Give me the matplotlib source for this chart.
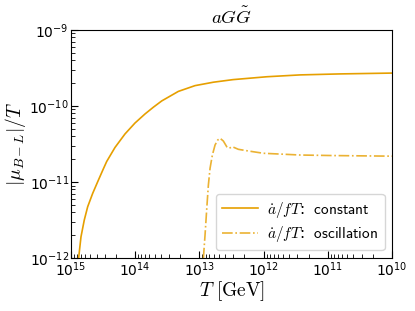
import matplotlib
matplotlib.use('Agg')
import matplotlib.pyplot as plt
import numpy as np

plt.rcParams.update({'mathtext.fontset': 'cm',
                     'font.family': 'DejaVu Sans',
                     'xtick.direction': 'in',
                     'ytick.direction': 'in'})

# log10(T/GeV) y log10(|mu_{B-L}|/T)
logT_const = [14.880, 14.844, 14.793, 14.740, 14.662, 14.584, 14.497, 14.444, 14.315,
              14.159, 14.003, 13.847, 13.718, 13.587, 13.329, 13.069, 12.783, 12.477,
              11.947, 11.433, 10.810, 10.0]
logmu_const = [-11.993, -11.720, -11.500, -11.325, -11.149, -10.996, -10.829, -10.730, -10.546,
               -10.368, -10.224, -10.105, -10.017, -9.934, -9.809, -9.733, -9.688, -9.654,
               -9.616, -9.592, -9.579, -9.568]

logT_osc = [12.939, 12.913, 12.886, 12.861, 12.835, 12.799, 12.757, 12.715, 12.679,
            12.628, 12.575, 12.539, 12.488, 12.394, 12.238, 12.005, 11.43, 10.92, 10.0]
logmu_osc = [-12.004, -11.697, -11.346, -11.039, -10.820, -10.645, -10.513, -10.447, -10.425,
             -10.461, -10.536, -10.557, -10.536, -10.570, -10.592, -10.622, -10.645, -10.652, -10.66]

T_const = 10.0 ** np.array(logT_const)
mu_const = 10.0 ** np.array(logmu_const)
T_osc = 10.0 ** np.array(logT_osc)
mu_osc = 10.0 ** np.array(logmu_osc)

fig = plt.figure(figsize=(4.15, 3.11), dpi=100)
ax = fig.add_axes([0.171, 0.170, 0.774, 0.734])

color = '#E69F00'
ax.plot(T_const, mu_const, color=color, lw=1.2,
        label=r'$\dot{a}/fT$:  $\mathsf{constant}$')
ax.plot(T_osc, mu_osc, color=color, lw=1.2, ls='-.', alpha=0.8,
        label=r'$\dot{a}/fT$:  $\mathsf{oscillation}$')

ax.set_xscale('log')
ax.set_yscale('log')
ax.set_xlim(1e15, 1e10)
ax.set_ylim(1e-12, 1e-9)

ax.tick_params(which='both', top=False, right=False, labelsize=10, pad=1.5)
ax.tick_params(which='major', length=5)
ax.tick_params(which='minor', length=3)

ax.set_xlabel(r'$T\ [\mathrm{GeV}]$', fontsize=14, labelpad=0)
ax.set_ylabel(r'$|\mu_{B-L}|/T$', fontsize=14, labelpad=1)
ax.set_title(r'$aG\tilde{G}$', fontsize=13.5, pad=4)

ax.legend(loc='lower right', fontsize=11, handlelength=2.4, handletextpad=0.6,
          labelspacing=0.3, borderpad=0.4)

fig.savefig('out.png', dpi=100)
